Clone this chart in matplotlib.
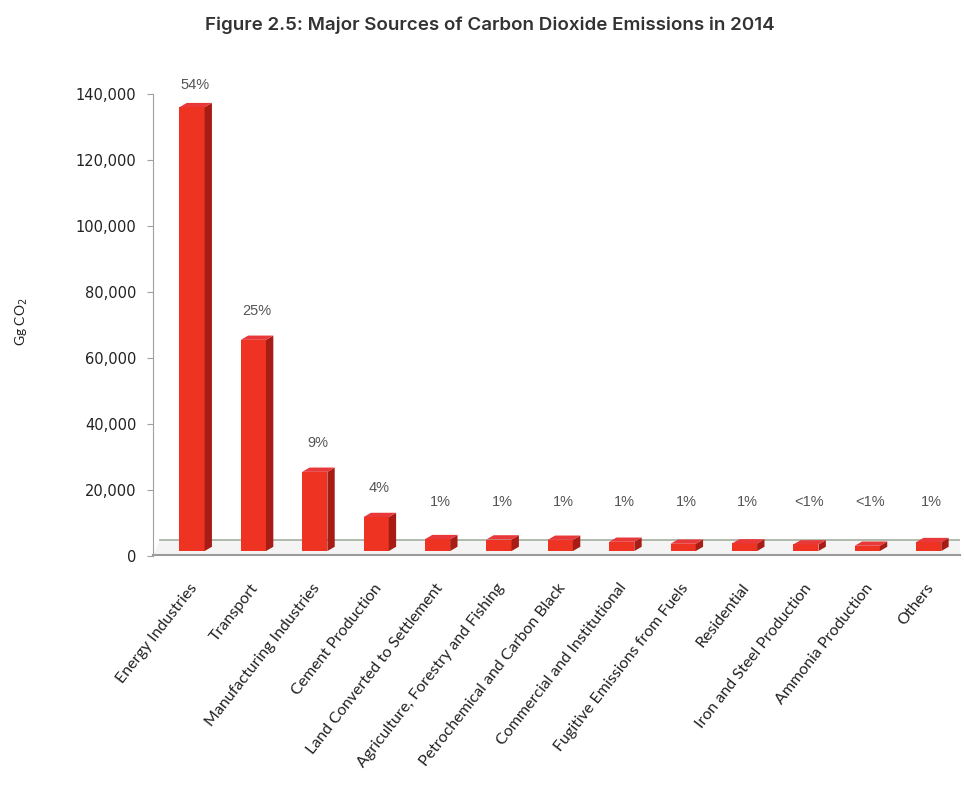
import numpy as np
import matplotlib
matplotlib.use("Agg")
import matplotlib.pyplot as plt
from matplotlib.patches import Polygon

# datos (Gg CO2)
categorias = ["Energy Industries", "Transport", "Manufacturing Industries",
              "Cement Production", "Land Converted to Settlement",
              "Agriculture, Forestry and Fishing", "Petrochemical and Carbon Black",
              "Commercial and Institutional", "Fugitive Emissions from Fuels",
              "Residential", "Iron and Steel Production", "Ammonia Production",
              "Others"]
valores = [134500, 64000, 24000, 10300, 3600, 3500, 3400,
           2800, 2200, 2300, 2000, 1600, 2700]
porcentajes = ["54%", "25%", "9%", "4%", "1%", "1%", "1%",
               "1%", "1%", "1%", "<1%", "<1%", "1%"]
yticks = [0, 20000, 40000, 60000, 80000, 100000, 120000, 140000]

# estilo
rojo = "#EE3322"
rojo_lado = "#A81C16"
rojo_top = "#E8383A"
W, H = 964, 791

fig = plt.figure(figsize=(W / 100, H / 100), dpi=100)
ax = fig.add_axes([153 / W, 1 - 556 / H, (960 - 153) / W, (556 - 94) / H])

x0, x1 = -0.635, 12.51
ax.set_xlim(x0, x1)
ax.set_ylim(0, 140000)

# piso "3D"
piso_dy = 4800
piso = Polygon([(x0, 0), (x1, 0), (x1, piso_dy), (x0 + 0.12, piso_dy)],
               closed=True, facecolor="#f3f4f3", edgecolor="none", zorder=1)
ax.add_patch(piso)
ax.plot([x0 + 0.12, x1], [piso_dy, piso_dy], color="#a9b4a6", lw=1.3, zorder=1.5)
ax.plot([x0, x1], [250, 250], color="#9a9a9a", lw=1.5, zorder=1.5, clip_on=False)

# barras con caras laterales
w = 0.41
dx, dy = 0.12, 1300
base = 1500
xs = np.arange(len(valores))
ax.bar(xs, valores, width=w, bottom=base, color=rojo, zorder=3)
for x, v in zip(xs, valores):
    top = base + v
    lado = Polygon([(x + w / 2, base), (x + w / 2 + dx, base + dy),
                    (x + w / 2 + dx, top + dy), (x + w / 2, top)],
                   closed=True, facecolor=rojo_lado, edgecolor="none", zorder=3)
    tapa = Polygon([(x - w / 2, top), (x + w / 2, top),
                    (x + w / 2 + dx, top + dy), (x - w / 2 + dx, top + dy)],
                   closed=True, facecolor=rojo_top, edgecolor="none", zorder=3)
    ax.add_patch(lado)
    ax.add_patch(tapa)

# etiquetas de porcentaje (la primera queda pegada al borde superior)
for x, v, p in zip(xs, valores, porcentajes):
    y = min(max(v, 6000) + base, 134000)
    ax.annotate(p, (x + 0.05, y), xytext=(0, 16),
                textcoords="offset points", ha="center", va="bottom",
                fontsize=10.5, color="#555555", family="Liberation Sans",
                annotation_clip=False)

# ejes
for s in ["top", "right", "bottom"]:
    ax.spines[s].set_visible(False)
ax.spines["left"].set_color("#a0a0a0")
ax.set_yticks(yticks)
ax.set_yticklabels([f"{t:,}" for t in yticks], fontsize=10.5,
                   family="DejaVu Sans", color="#222222")
ax.tick_params(axis="y", length=4, color="#a0a0a0", pad=8)
ax.set_xticks(xs - 0.05)
ax.set_xticklabels(categorias, rotation=52, ha="right", rotation_mode="anchor",
                   fontsize=11.5, family="Lato", color="#222222")
ax.tick_params(axis="x", length=0, pad=18)

fig.text(22 / W, 1 - 322 / H, "Gg CO$_2$", rotation=90, ha="center", va="center",
         fontsize=10, family="Lato", color="#222222")
fig.text(490 / W, 1 - 25 / H,
         "Figure 2.5: Major Sources of Carbon Dioxide Emissions in 2014",
         ha="center", va="center", fontsize=13.5, family="Inter",
         fontweight="semibold", color="#333333")

fig.savefig("out.png", dpi=100, facecolor="white")
